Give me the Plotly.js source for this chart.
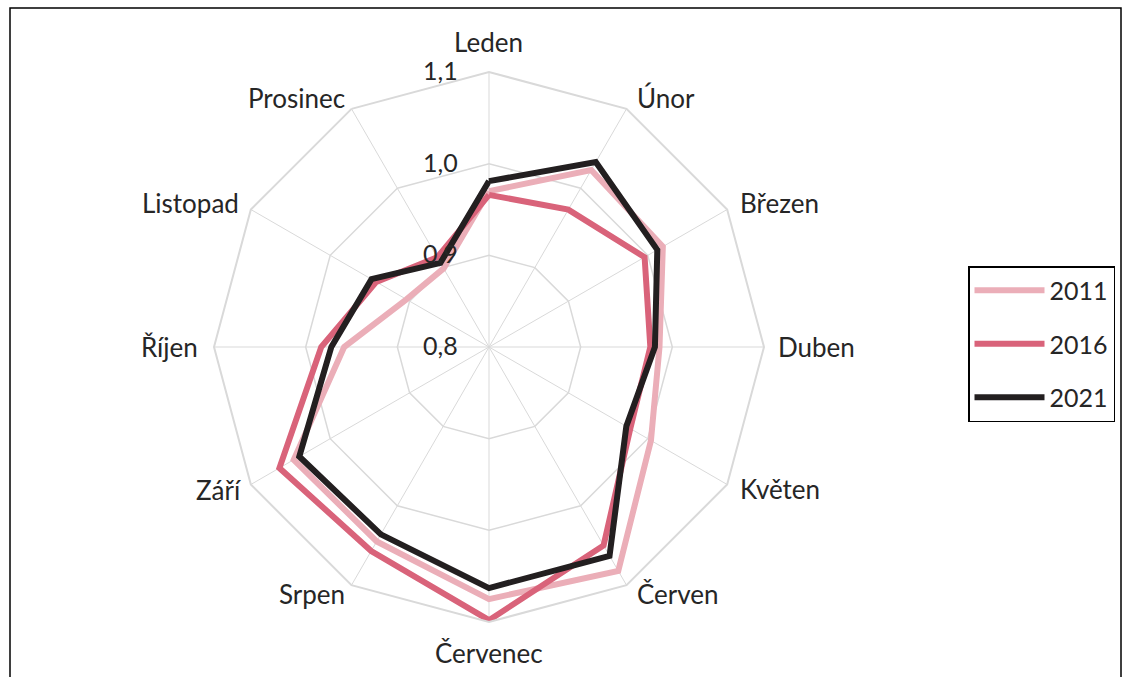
<!DOCTYPE html>
<html><head><meta charset="utf-8">
<script src="https://cdn.plot.ly/plotly-3.0.1.min.js"></script>
<style>html,body{margin:0;padding:0;background:#fff}#chart{width:1128px;height:677px}</style>
</head><body><div id="chart"></div>
<script>
const months = ["Leden","Únor","Březen","Duben","Květen","Červen","Červenec","Srpen","Září","Říjen","Listopad","Prosinec"];
const years = ["2011","2016","2021"];
const v2011 = [0.970,1.023,1.019,0.986,1.004,1.082,1.075,1.045,1.046,0.958,0.904,0.899];
const v2016 = [0.966,0.973,0.996,0.976,0.978,1.050,1.098,1.057,1.064,0.983,0.942,0.913];
const v2021 = [0.981,1.033,1.012,0.981,0.973,1.063,1.063,1.036,1.039,0.972,0.948,0.906];
const radialTicks = [0.8,0.9,1.0,1.1];
const colors = ["#EBAEB8","#D9637A","#231F20"];

const series = [v2011, v2016, v2021];
const close = a => a.concat([a[0]]);
const traces = series.map((vals,i) => ({
  type:"scatterpolar", mode:"lines",
  r: close(vals), theta: close(months),
  name: years[i], legendgroup: years[i],
  line:{color:colors[i], width:6}
}));

const W=1128,H=677, cx=489, cy=347, R=275;
// category label placement (offsets from each spoke's outer vertex), Excel-like
const labelOffsets = [
  {xa:"center", dx:-1, dy:-30}, {xa:"left", dx:8, dy:-11}, {xa:"left", dx:11, dy:-7},
  {xa:"left", dx:12, dy:0}, {xa:"left", dx:11, dy:5}, {xa:"left", dx:8, dy:9},
  {xa:"center", dx:0, dy:31}, {xa:"right", dx:-5, dy:9}, {xa:"right", dx:-8, dy:5},
  {xa:"right", dx:-14, dy:0}, {xa:"right", dx:-10, dy:-7}, {xa:"right", dx:-4, dy:-11}
];
const annotations = months.map((m,i) => {
  const a = i*Math.PI/6;
  const vx = cx + R*Math.sin(a), vy = cy - R*Math.cos(a);
  const o = labelOffsets[i];
  return {xref:"paper", yref:"paper", x:vx/W, y:1-vy/H, text:m, showarrow:false,
    xanchor:o.xa, yanchor:"middle", xshift:o.dx, yshift:-o.dy,
    font:{size:26, color:"#262626"}};
});

const layout = {
  width:W, height:H, margin:{l:0,r:0,t:0,b:0},
  paper_bgcolor:"#fff", plot_bgcolor:"#fff",
  separators:",.",
  font:{family:"Lato, 'Open Sans', sans-serif", size:25, color:"#262626"},
  polar:{
    domain:{x:[(cx-R)/W,(cx+R)/W], y:[(H-cy-R)/H,(H-cy+R)/H]},
    gridshape:"linear",
    bgcolor:"#fff",
    radialaxis:{range:[0.8,1.1], tickvals:radialTicks, tickformat:".1f",
      angle:90, tickangle:90, side:"counterclockwise",
      showline:false, gridcolor:"#D9D9D9", gridwidth:1.5,
      ticks:"outside", ticklen:22, tickcolor:"rgba(0,0,0,0)",
      tickfont:{size:25,color:"#262626"}},
    angularaxis:{direction:"clockwise", rotation:90, categoryarray:months, categoryorder:"array",
      gridcolor:"#D9D9D9", gridwidth:1, linecolor:"#D9D9D9", linewidth:2,
      showticklabels:false, ticks:""}
  },
  showlegend:true,
  legend:{x:968/W, y:1-266/H, xanchor:"left", yanchor:"top",
    bordercolor:"#000", borderwidth:1.5, bgcolor:"#fff",
    traceorder:"grouped", tracegroupgap:18, itemwidth:70,
    font:{size:25,color:"#262626"}},
  annotations: annotations,
  shapes:[{type:"rect", xref:"paper", yref:"paper",
    x0:10/W, x1:1121/W, y0:-0.05, y1:1-8/H, line:{color:"#000",width:1.5}}]
};
Plotly.newPlot("chart", traces, layout, {displayModeBar:false, staticPlot:true});
</script></body></html>
